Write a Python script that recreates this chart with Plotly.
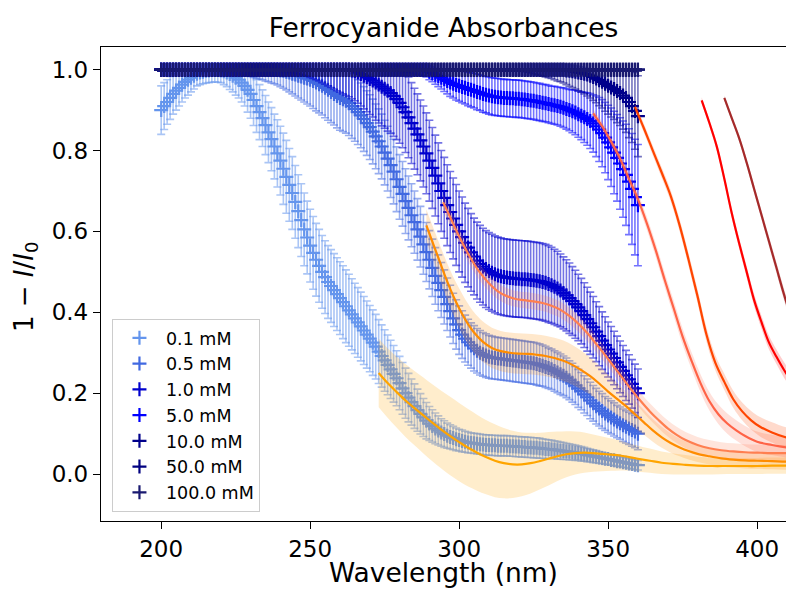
import plotly.graph_objects as go

# ---------------- data (1 nm steps, 200-360 nm) ----------------
wavelength = list(range(200, 361))

abs_0p1 = [0.900, 0.910, 0.920, 0.930, 0.940, 0.948, 0.955, 0.963, 0.970, 0.975,
           0.980, 0.985, 0.990, 0.993, 0.995, 0.997, 0.998, 0.999, 1.000, 0.999,
           0.998, 0.996, 0.993, 0.989, 0.985, 0.980, 0.975, 0.968, 0.960, 0.950,
           0.940, 0.925, 0.910, 0.895, 0.880, 0.863, 0.845, 0.828, 0.810, 0.793,
           0.775, 0.755, 0.735, 0.715, 0.695, 0.673, 0.650, 0.628, 0.605, 0.585,
           0.565, 0.547, 0.530, 0.515, 0.500, 0.487, 0.475, 0.465, 0.455, 0.445,
           0.435, 0.425, 0.415, 0.405, 0.395, 0.385, 0.375, 0.365, 0.355, 0.345,
           0.335, 0.325, 0.315, 0.303, 0.292, 0.281, 0.270, 0.259, 0.248, 0.237,
           0.225, 0.212, 0.200, 0.189, 0.178, 0.168, 0.158, 0.149, 0.140, 0.132,
           0.125, 0.119, 0.113, 0.108, 0.103, 0.099, 0.095, 0.092, 0.089, 0.086,
           0.084, 0.082, 0.080, 0.078, 0.077, 0.076, 0.075, 0.074, 0.073, 0.072,
           0.072, 0.071, 0.071, 0.070, 0.070, 0.070, 0.070, 0.069, 0.069, 0.068,
           0.068, 0.067, 0.067, 0.066, 0.066, 0.065, 0.065, 0.064, 0.063, 0.062,
           0.062, 0.061, 0.060, 0.059, 0.058, 0.057, 0.056, 0.055, 0.054, 0.053,
           0.052, 0.050, 0.049, 0.047, 0.046, 0.044, 0.043, 0.041, 0.040, 0.038,
           0.037, 0.035, 0.034, 0.032, 0.031, 0.029, 0.028, 0.026, 0.025, 0.023,
           0.022]
err_0p1 = [0.060, 0.058, 0.055, 0.053, 0.050, 0.048, 0.045, 0.043, 0.040, 0.038,
           0.035, 0.033, 0.030, 0.030, 0.030, 0.030, 0.030, 0.030, 0.030, 0.030,
           0.030, 0.033, 0.035, 0.038, 0.040, 0.043, 0.045, 0.048, 0.050, 0.055,
           0.060, 0.063, 0.065, 0.068, 0.070, 0.073, 0.075, 0.078, 0.080, 0.083,
           0.085, 0.088, 0.090, 0.090, 0.090, 0.090, 0.090, 0.090, 0.090, 0.090,
           0.090, 0.090, 0.090, 0.090, 0.090, 0.090, 0.090, 0.090, 0.090, 0.090,
           0.090, 0.090, 0.090, 0.089, 0.088, 0.087, 0.086, 0.085, 0.084, 0.083,
           0.082, 0.081, 0.080, 0.079, 0.077, 0.076, 0.074, 0.072, 0.070, 0.068,
           0.066, 0.064, 0.062, 0.060, 0.057, 0.055, 0.052, 0.050, 0.047, 0.045,
           0.042, 0.040, 0.038, 0.036, 0.034, 0.033, 0.031, 0.030, 0.029, 0.028,
           0.027, 0.027, 0.026, 0.026, 0.025, 0.025, 0.025, 0.025, 0.025, 0.025,
           0.025, 0.025, 0.025, 0.025, 0.025, 0.025, 0.025, 0.025, 0.025, 0.025,
           0.025, 0.025, 0.025, 0.025, 0.025, 0.025, 0.025, 0.025, 0.024, 0.024,
           0.023, 0.023, 0.022, 0.022, 0.021, 0.021, 0.020, 0.020, 0.019, 0.019,
           0.018, 0.018, 0.017, 0.017, 0.016, 0.016, 0.015, 0.015, 0.014, 0.014,
           0.013, 0.013, 0.013, 0.013, 0.012, 0.012, 0.012, 0.012, 0.012, 0.012,
           0.012]

abs_0p5 = [1.0] * 40 + [
           0.998, 0.997, 0.995, 0.993, 0.990, 0.988, 0.985, 0.983, 0.980, 0.978,
           0.975, 0.972, 0.968, 0.964, 0.960, 0.955, 0.950, 0.945, 0.940, 0.935,
           0.930, 0.927, 0.923, 0.917, 0.910, 0.903, 0.895, 0.887, 0.878, 0.868,
           0.858, 0.847, 0.835, 0.823, 0.810, 0.795, 0.780, 0.764, 0.748, 0.729,
           0.710, 0.693, 0.675, 0.658, 0.640, 0.623, 0.605, 0.587, 0.568, 0.549,
           0.530, 0.510, 0.490, 0.473, 0.455, 0.438, 0.420, 0.403, 0.385, 0.370,
           0.356, 0.345, 0.335, 0.326, 0.318, 0.311, 0.305, 0.300, 0.296, 0.293,
           0.290, 0.288, 0.287, 0.286, 0.285, 0.284, 0.283, 0.282, 0.281, 0.280,
           0.279, 0.278, 0.277, 0.276, 0.275, 0.274, 0.272, 0.270, 0.268, 0.265,
           0.262, 0.259, 0.255, 0.251, 0.247, 0.243, 0.238, 0.232, 0.226, 0.219,
           0.212, 0.205, 0.197, 0.190, 0.182, 0.175, 0.168, 0.162, 0.156, 0.150,
           0.145, 0.140, 0.135, 0.130, 0.126, 0.121, 0.117, 0.113, 0.109, 0.105,
           0.100]
err_0p5 = [0.003] * 20 + [
           0.004, 0.004, 0.005, 0.006, 0.007, 0.008, 0.010, 0.012, 0.013, 0.015,
           0.017, 0.019, 0.021, 0.023, 0.025, 0.028, 0.030, 0.033, 0.035, 0.038,
           0.040, 0.043, 0.045, 0.048, 0.050, 0.053, 0.055, 0.058, 0.060, 0.063,
           0.065, 0.068, 0.070, 0.071, 0.072, 0.074, 0.075, 0.076, 0.077, 0.079] + [0.080] * 20 + [
           0.080, 0.080, 0.080, 0.079, 0.078, 0.077, 0.076, 0.075, 0.074, 0.073,
           0.072, 0.071, 0.070, 0.069, 0.068, 0.067, 0.065, 0.064, 0.062, 0.061,
           0.060, 0.059, 0.058, 0.057, 0.056, 0.056, 0.055, 0.055, 0.054, 0.054,
           0.053, 0.053, 0.052, 0.052, 0.052, 0.052, 0.052, 0.052, 0.052, 0.052,
           0.052, 0.052, 0.052, 0.052, 0.052, 0.052, 0.052, 0.052, 0.051, 0.051,
           0.050, 0.050, 0.050, 0.050, 0.050, 0.049, 0.049, 0.048, 0.048, 0.047,
           0.047, 0.046, 0.046, 0.045, 0.045, 0.044, 0.044, 0.043, 0.043, 0.042,
           0.042, 0.041, 0.041, 0.040, 0.040, 0.040, 0.040, 0.040, 0.040, 0.040,
           0.040]

abs_1 = [1.0] * 64 + [
         0.998, 0.996, 0.993, 0.989, 0.985, 0.981,
         0.977, 0.973, 0.968, 0.963, 0.958, 0.953, 0.948, 0.942, 0.935, 0.927,
         0.918, 0.907, 0.895, 0.882, 0.868, 0.854, 0.840, 0.825, 0.810, 0.793,
         0.775, 0.757, 0.738, 0.719, 0.700, 0.683, 0.665, 0.648, 0.632, 0.616,
         0.600, 0.586, 0.572, 0.560, 0.548, 0.538, 0.528, 0.520, 0.513, 0.507,
         0.502, 0.498, 0.494, 0.491, 0.489, 0.487, 0.486, 0.485, 0.484, 0.483,
         0.483, 0.482, 0.482, 0.481, 0.480, 0.479, 0.478, 0.477, 0.475, 0.473,
         0.470, 0.467, 0.463, 0.459, 0.454, 0.448, 0.442, 0.435, 0.428, 0.420,
         0.412, 0.403, 0.393, 0.383, 0.373, 0.363, 0.352, 0.341, 0.330, 0.319,
         0.308, 0.298, 0.287, 0.276, 0.265, 0.255, 0.244, 0.234, 0.223, 0.212,
         0.200]
err_1 = [0.003] * 40 + [
         0.004, 0.004, 0.005, 0.006, 0.007, 0.008, 0.010, 0.012, 0.014, 0.016,
         0.019, 0.022, 0.025, 0.028, 0.032, 0.036, 0.040, 0.044, 0.048, 0.052,
         0.056, 0.060, 0.064, 0.067, 0.070, 0.073, 0.076, 0.079, 0.082, 0.085,
         0.088, 0.090, 0.093, 0.095, 0.097, 0.098, 0.100, 0.100, 0.100, 0.100] + [0.100] * 20 + [
         0.100, 0.099, 0.098, 0.097, 0.096, 0.095, 0.095, 0.095, 0.095, 0.095] + [0.095] * 20 + [
         0.095, 0.094, 0.093, 0.092, 0.090, 0.089, 0.088, 0.087, 0.085, 0.084,
         0.082, 0.081, 0.080, 0.079, 0.077, 0.076, 0.074, 0.073, 0.071, 0.070,
         0.068, 0.067, 0.066, 0.065, 0.064, 0.063, 0.062, 0.061, 0.060, 0.060,
         0.060]

abs_5 = [1.0] * 90 + [
         0.995, 0.992, 0.988, 0.984, 0.980, 0.976, 0.972, 0.968, 0.965, 0.962,
         0.960, 0.957, 0.955, 0.952, 0.950, 0.948, 0.945, 0.943, 0.940, 0.938,
         0.936, 0.934, 0.933, 0.932, 0.931, 0.930, 0.930, 0.929, 0.929, 0.928,
         0.928, 0.927, 0.926, 0.925, 0.924, 0.923, 0.921, 0.920, 0.918, 0.917,
         0.915, 0.913, 0.912, 0.910, 0.908, 0.906, 0.903, 0.900, 0.897, 0.894,
         0.890, 0.886, 0.882, 0.878, 0.873, 0.867, 0.860, 0.852, 0.843, 0.832,
         0.820, 0.808, 0.795, 0.782, 0.768, 0.754, 0.740, 0.723, 0.705, 0.685,
         0.665]
err_5 = [0.003] * 80 + [
         0.004, 0.004, 0.005, 0.006, 0.008, 0.010, 0.012, 0.014, 0.016, 0.018,
         0.020, 0.022, 0.024, 0.026, 0.028, 0.030, 0.032, 0.034, 0.035, 0.037,
         0.038, 0.039, 0.040, 0.041, 0.042, 0.043, 0.044, 0.044, 0.045, 0.045] + [0.046] * 20 + [
         0.046, 0.046, 0.047, 0.047, 0.048, 0.049, 0.050, 0.051, 0.053, 0.055,
         0.057, 0.059, 0.062, 0.065, 0.068, 0.071, 0.075, 0.079, 0.083, 0.087,
         0.092, 0.097, 0.102, 0.107, 0.113, 0.119, 0.125, 0.131, 0.137, 0.143,
         0.150]

abs_10 = [1.0] * 136 + [
          0.998, 0.997, 0.996, 0.995, 0.993, 0.992, 0.990, 0.988, 0.985, 0.982,
          0.978, 0.974, 0.970, 0.965, 0.960, 0.956, 0.952, 0.947, 0.942, 0.936,
          0.930, 0.920, 0.910, 0.898, 0.885]
err_10 = [0.003] * 121 + [
          0.004, 0.005, 0.006, 0.008, 0.010, 0.012, 0.014, 0.016, 0.018, 0.020,
          0.022, 0.025, 0.028, 0.030, 0.033, 0.035, 0.038, 0.040, 0.043, 0.045,
          0.048, 0.050, 0.053, 0.055, 0.058, 0.060, 0.063, 0.065, 0.068, 0.070,
          0.073, 0.075, 0.078, 0.080, 0.083, 0.085, 0.088, 0.090, 0.095, 0.100]

abs_50 = [1.0] * 161
err_50 = [0.004] * 161
abs_100 = [1.0] * 161
err_100 = [0.004] * 161

labels = ["0.1 mM", "0.5 mM", "1.0 mM", "5.0 mM", "10.0 mM", "50.0 mM", "100.0 mM"]
data_colors = ["#6495ED", "#4169E1", "#0000CD", "#0000FF", "#00008B", "#000080", "#191970"]

# model fits (line + half width of shaded band)
fit_x_0p1 = [273, 276, 279, 282, 285, 288, 291, 294, 297, 300, 303, 306, 309, 312, 315, 318, 321,
             324, 327, 330, 333, 336, 339, 342, 345, 348, 351, 354, 357, 360, 364, 368, 372, 376,
             380, 385, 390, 395, 400, 405, 410, 415]
fit_y_0p1 = [0.25, 0.225, 0.203, 0.182, 0.163, 0.145, 0.127, 0.11, 0.094, 0.079, 0.065, 0.053, 0.042,
             0.033, 0.027, 0.024, 0.024, 0.027, 0.032, 0.038, 0.044, 0.049, 0.052, 0.053, 0.052,
             0.05, 0.048, 0.046, 0.042, 0.038, 0.033, 0.028, 0.025, 0.023, 0.021, 0.02, 0.02, 0.02,
             0.02, 0.021, 0.021, 0.022]
fit_hw_0p1 = [0.085, 0.086, 0.088, 0.09, 0.092, 0.094, 0.095, 0.096, 0.097, 0.097, 0.096, 0.094, 0.092,
              0.09, 0.087, 0.083, 0.079, 0.075, 0.07, 0.066, 0.061, 0.057, 0.053, 0.05, 0.046, 0.043,
              0.04, 0.037, 0.034, 0.032, 0.03, 0.028, 0.026, 0.024, 0.022, 0.021, 0.02, 0.02, 0.02,
              0.02, 0.02, 0.02]

fit_x_0p5 = [289, 291, 293, 295, 297, 299, 301, 303, 305, 308, 311, 314, 317, 320, 323, 326, 329, 332,
             335, 338, 341, 344, 347, 350, 353, 356, 359, 362, 365, 368, 371, 374, 377, 380, 384, 388,
             392, 396, 400, 405, 410, 415]
fit_y_0p5 = [0.615, 0.575, 0.535, 0.495, 0.458, 0.425, 0.396, 0.371, 0.35, 0.327, 0.312, 0.304, 0.3,
             0.298, 0.297, 0.295, 0.292, 0.287, 0.28, 0.27, 0.257, 0.242, 0.224, 0.204, 0.186, 0.168,
             0.148, 0.128, 0.108, 0.091, 0.077, 0.066, 0.057, 0.05, 0.044, 0.039, 0.036, 0.034, 0.033,
             0.032, 0.031, 0.031]
fit_hw_0p5 = [0.04, 0.04, 0.042, 0.044, 0.046, 0.048, 0.05, 0.05, 0.05, 0.05, 0.05, 0.05, 0.05, 0.05,
              0.05, 0.05, 0.05, 0.05, 0.05, 0.049, 0.048, 0.046, 0.044, 0.042, 0.04, 0.037, 0.034,
              0.031, 0.028, 0.026, 0.024, 0.022, 0.021, 0.02, 0.02, 0.02, 0.02, 0.02, 0.02, 0.02,
              0.02, 0.02]

fit_x_1 = [294.6, 297, 299, 301, 303, 305, 307, 310, 313, 316, 319, 322, 325, 328, 331, 334, 337, 340,
           343, 346, 349, 352, 355, 358, 361, 364, 367, 370, 373, 376, 380, 384, 388, 392, 396, 400,
           405, 410, 415]
fit_y_1 = [0.672, 0.635, 0.603, 0.573, 0.545, 0.52, 0.498, 0.472, 0.452, 0.44, 0.433, 0.43, 0.427,
           0.423, 0.416, 0.406, 0.391, 0.372, 0.349, 0.322, 0.294, 0.265, 0.236, 0.207, 0.18, 0.155,
           0.133, 0.113, 0.097, 0.084, 0.072, 0.064, 0.059, 0.056, 0.054, 0.053, 0.052, 0.052, 0.052]
fit_hw_1 = [0.02] * 39

fit_x_5 = [345, 348, 351, 354, 357, 360, 363, 366, 369, 372, 375, 378, 381, 384, 387, 390, 393, 396,
           400, 405, 410, 415]
fit_y_5 = [0.892, 0.86, 0.822, 0.78, 0.73, 0.68, 0.62, 0.553, 0.48, 0.41, 0.34, 0.28, 0.225, 0.18,
           0.148, 0.125, 0.108, 0.094, 0.08, 0.072, 0.066, 0.063]
fit_hw_5 = [0.01, 0.011, 0.012, 0.013, 0.014, 0.015, 0.016, 0.017, 0.018, 0.019, 0.02, 0.021, 0.022,
            0.023, 0.024, 0.025, 0.025, 0.025, 0.025, 0.025, 0.025, 0.025]

fit_x_10 = [359, 362, 365, 368, 371, 374, 377, 380, 383, 386, 389, 392, 395, 398, 401, 405, 410, 415]
fit_y_10 = [0.908, 0.855, 0.8, 0.745, 0.688, 0.615, 0.53, 0.44, 0.345, 0.275, 0.228, 0.185, 0.155,
            0.133, 0.117, 0.103, 0.09, 0.082]
fit_hw_10 = [0.01, 0.011, 0.012, 0.013, 0.014, 0.015, 0.016, 0.017, 0.018, 0.019, 0.02, 0.021, 0.022,
             0.023, 0.024, 0.025, 0.025, 0.025]

fit_x_50 = [381.4, 384, 386.5, 389, 391.5, 394, 396.5, 399, 401.5, 404, 406.5, 409, 412, 415]
fit_y_50 = [0.924, 0.868, 0.809, 0.73, 0.645, 0.57, 0.5, 0.43, 0.375, 0.325, 0.29, 0.258, 0.225, 0.2]
fit_hw_50 = [0.008, 0.009, 0.01, 0.011, 0.012, 0.013, 0.014, 0.015, 0.016, 0.017, 0.018, 0.019,
             0.02, 0.02]

fit_x_100 = [389, 391.5, 394, 396.5, 399, 401.5, 404, 406.5, 409, 412, 415]
fit_y_100 = [0.93, 0.88, 0.83, 0.77, 0.705, 0.64, 0.575, 0.51, 0.445, 0.375, 0.315]
fit_hw_100 = [0.006, 0.007, 0.008, 0.009, 0.01, 0.011, 0.012, 0.013, 0.014, 0.015, 0.016]

fit_colors = ["#FFA500", "#FF8C00", "#FF7F50", "#FF6347", "#FF4500", "#FF0000", "#A52A2A"]

# ---------------- figure ----------------
FONT = "DejaVu Sans"


def rgba(hexcol, a):
    h = hexcol.lstrip("#")
    return "rgba(%d,%d,%d,%.3f)" % (int(h[0:2], 16), int(h[2:4], 16), int(h[4:6], 16), a)


fig = go.Figure()

series = [(abs_0p1, err_0p1), (abs_0p5, err_0p5), (abs_1, err_1), (abs_5, err_5),
          (abs_10, err_10), (abs_50, err_50), (abs_100, err_100)]

for (vals, errs), lab, col in zip(series, labels, data_colors):
    plus = [min(e, 1.0 - v) for v, e in zip(vals, errs)]
    fig.add_trace(go.Scatter(
        x=wavelength, y=vals, mode="markers", name=lab,
        marker=dict(symbol="cross-thin", size=10, color=col, line=dict(color=col, width=2.2)),
        error_y=dict(type="data", symmetric=False, array=plus, arrayminus=errs,
                     color=rgba(col, 0.55), thickness=1.6, width=4),
    ))

fits = [(fit_x_0p1, fit_y_0p1, fit_hw_0p1), (fit_x_0p5, fit_y_0p5, fit_hw_0p5),
        (fit_x_1, fit_y_1, fit_hw_1), (fit_x_5, fit_y_5, fit_hw_5),
        (fit_x_10, fit_y_10, fit_hw_10), (fit_x_50, fit_y_50, fit_hw_50),
        (fit_x_100, fit_y_100, fit_hw_100)]

for (fx, fy, fh), col in zip(fits, fit_colors):
    lo = [y - h for y, h in zip(fy, fh)]
    hi = [y + h for y, h in zip(fy, fh)]
    fig.add_trace(go.Scatter(x=fx, y=lo, mode="lines", line=dict(width=0, shape="spline", color=col),
                             showlegend=False, hoverinfo="skip"))
    fig.add_trace(go.Scatter(x=fx, y=hi, mode="lines", line=dict(width=0, shape="spline", color=col),
                             fill="tonexty", fillcolor=rgba(col, 0.2), showlegend=False, hoverinfo="skip"))

for (fx, fy, fh), col in zip(fits, fit_colors):
    fig.add_trace(go.Scatter(x=fx, y=fy, mode="lines", line=dict(width=2.2, shape="spline", color=col),
                             showlegend=False))

axis_common = dict(showgrid=False, zeroline=False, showline=True, linecolor="black", linewidth=1.3,
                   ticks="outside", ticklen=7, tickwidth=1.3, tickcolor="black",
                   tickfont=dict(family=FONT, size=23, color="black"))

fig.update_layout(
    width=786, height=590,
    margin=dict(l=101, r=0, t=47, b=69),
    paper_bgcolor="white", plot_bgcolor="white",
    font=dict(family=FONT, color="black"),
    title=dict(text="Ferrocyanide Absorbances", x=0.5, xanchor="center", xref="paper",
               y=1 - 28 / 590, yanchor="middle", yref="container",
               font=dict(family=FONT, size=26.5, color="black")),
    xaxis=dict(range=[179.8, 409.7], tickvals=[200, 250, 300, 350, 400], mirror=True,
               **axis_common),
    yaxis=dict(range=[-0.116, 1.056], tickvals=[0.0, 0.2, 0.4, 0.6, 0.8, 1.0], tickformat=".1f",
               mirror=False, **axis_common),
    legend=dict(x=0.016, y=0.019, xanchor="left", yanchor="bottom", traceorder="normal",
                bgcolor="rgba(255,255,255,0.8)", bordercolor="#cccccc", borderwidth=1,
                font=dict(family=FONT, size=17.5, color="black"), itemwidth=43, tracegroupgap=0),
    showlegend=True,
    annotations=[
        dict(text="1 − <i>I</i>/<i>I</i><sub>0</sub>", textangle=-90,
             xref="paper", yref="paper", x=(25 - 101) / 685, y=(521 - 287) / 474,
             xanchor="center", yanchor="middle", showarrow=False,
             font=dict(family=FONT, size=26, color="black")),
        dict(text="Wavelength (nm)", xref="paper", yref="paper", x=0.5, y=(521 - 555) / 474,
             xanchor="center", yanchor="top", showarrow=False,
             font=dict(family=FONT, size=26.5, color="black")),
    ],
)

fig.write_html("out.html")
